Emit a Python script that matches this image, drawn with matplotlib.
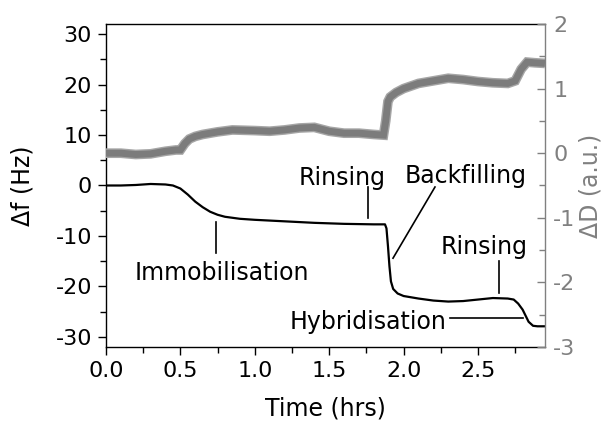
import matplotlib.pyplot as plt
from matplotlib.ticker import MultipleLocator

plt.rcParams['axes.unicode_minus'] = False
plt.rcParams['font.family'] = 'DejaVu Sans'

# frequency shift (black trace, left axis)
time_f = [0.0, 0.1, 0.2, 0.3, 0.4, 0.45, 0.5, 0.55, 0.6, 0.65, 0.7, 0.75, 0.8,
          0.9, 1.0, 1.2, 1.4, 1.6, 1.8, 1.875, 1.885, 1.895, 1.905, 1.915, 1.93,
          1.96, 2.0, 2.1, 2.2, 2.3, 2.4, 2.5, 2.6, 2.7, 2.74, 2.77, 2.8, 2.84,
          2.87, 2.9, 2.95]
delta_f = [0.0, 0.0, 0.1, 0.3, 0.2, 0.0, -0.6, -1.8, -3.2, -4.3, -5.2, -5.8, -6.2,
           -6.6, -6.8, -7.1, -7.4, -7.6, -7.7, -7.7, -8.5, -12.0, -16.0, -19.0, -20.5,
           -21.4, -21.9, -22.4, -22.8, -23.0, -22.9, -22.6, -22.3, -22.4, -22.6, -23.4, -24.6, -27.0,
           -27.8, -27.9, -27.9]

# dissipation shift (grey trace, right axis)
time_d = [0.0, 0.1, 0.2, 0.3, 0.4, 0.47, 0.5, 0.53, 0.56, 0.6, 0.65, 0.75, 0.85,
          1.0, 1.1, 1.2, 1.3, 1.4, 1.5, 1.6, 1.7, 1.8, 1.865, 1.88, 1.895, 1.91,
          1.95, 2.0, 2.1, 2.2, 2.3, 2.4, 2.5, 2.6, 2.7, 2.75, 2.79, 2.83, 2.88, 2.95]
delta_d = [0.0, 0.0, -0.02, -0.01, 0.03, 0.05, 0.05, 0.15, 0.22, 0.26, 0.29, 0.33, 0.36,
           0.35, 0.34, 0.36, 0.39, 0.40, 0.34, 0.31, 0.31, 0.29, 0.28, 0.5, 0.8, 0.87,
           0.94, 1.0, 1.08, 1.12, 1.16, 1.14, 1.11, 1.09, 1.08, 1.12, 1.3, 1.41, 1.4, 1.39]

grey = '#808080'

fig = plt.figure(figsize=(6.08, 4.21), dpi=100)
ax = fig.add_axes([0.1743, 0.1758, 0.7220, 0.7672])
ax2 = ax.twinx()

ax.plot(time_f, delta_f, color='black', lw=1.6, solid_joinstyle='round')
# noisy band imitated by a wide light stroke under a darker one
ax2.plot(time_d, delta_d, color='#a6a6a6', lw=7, solid_joinstyle='miter', solid_capstyle='butt')
ax2.plot(time_d, delta_d, color='#7c7c7c', lw=5, solid_joinstyle='miter', solid_capstyle='butt')

ax.set_xlim(0, 2.95)
ax.set_ylim(-32, 32)
ax2.set_ylim(-3, 2)

ax.xaxis.set_major_locator(MultipleLocator(0.5))
ax.xaxis.set_minor_locator(MultipleLocator(0.25))
ax.yaxis.set_major_locator(MultipleLocator(10))
ax.yaxis.set_minor_locator(MultipleLocator(5))
ax2.yaxis.set_major_locator(MultipleLocator(1))
ax2.yaxis.set_minor_locator(MultipleLocator(0.5))
ax.xaxis.set_major_formatter(plt.FormatStrFormatter('%.1f'))

ax.tick_params(axis='both', which='major', direction='out', length=6, width=1, labelsize=16, pad=4)
ax.tick_params(axis='both', which='minor', direction='out', length=4, width=1)
ax.tick_params(top=False, right=False)
ax2.tick_params(axis='y', which='major', direction='in', length=6, width=1, labelsize=16,
                colors=grey, pad=6)
ax2.tick_params(axis='y', which='minor', direction='in', length=4, width=1, colors=grey)

for s in ['left', 'top', 'bottom']:
    ax2.spines[s].set_visible(False)
ax.spines['right'].set_visible(False)
ax2.spines['right'].set_color(grey)
for s in ax.spines.values():
    s.set_linewidth(1)
ax2.spines['right'].set_linewidth(1)

ax.set_xlabel('Time (hrs)', fontsize=17, labelpad=11)
ax.set_ylabel('\u0394f (Hz)', fontsize=17, labelpad=15)
ax2.set_ylabel('\u0394D (a.u.)', fontsize=17, color=grey, labelpad=2)

# labels with their pointer lines
ax.text(0.776, -18.7, 'Immobilisation', fontsize=17, ha='center', va='baseline')
ax.plot([0.739, 0.739], [-7.2, -13.4], color='black', lw=1.2)

ax.text(1.586, 0.1, 'Rinsing', fontsize=17, ha='center', va='baseline')
ax.plot([1.761, 1.761], [-0.3, -6.4], color='black', lw=1.2)

ax.text(2.416, 0.5, 'Backfilling', fontsize=17, ha='center', va='baseline')
ax.plot([2.211, 1.929], [-0.3, -14.4], color='black', lw=1.2)

ax.text(2.54, -13.6, 'Rinsing', fontsize=17, ha='center', va='baseline')
ax.plot([2.641, 2.641], [-15.0, -21.3], color='black', lw=1.2)

ax.text(2.29, -28.4, 'Hybridisation', fontsize=17, ha='right', va='baseline')
ax.plot([2.312, 2.80], [-26.3, -26.3], color='black', lw=1.2)

fig.savefig('out.png', dpi=100)
